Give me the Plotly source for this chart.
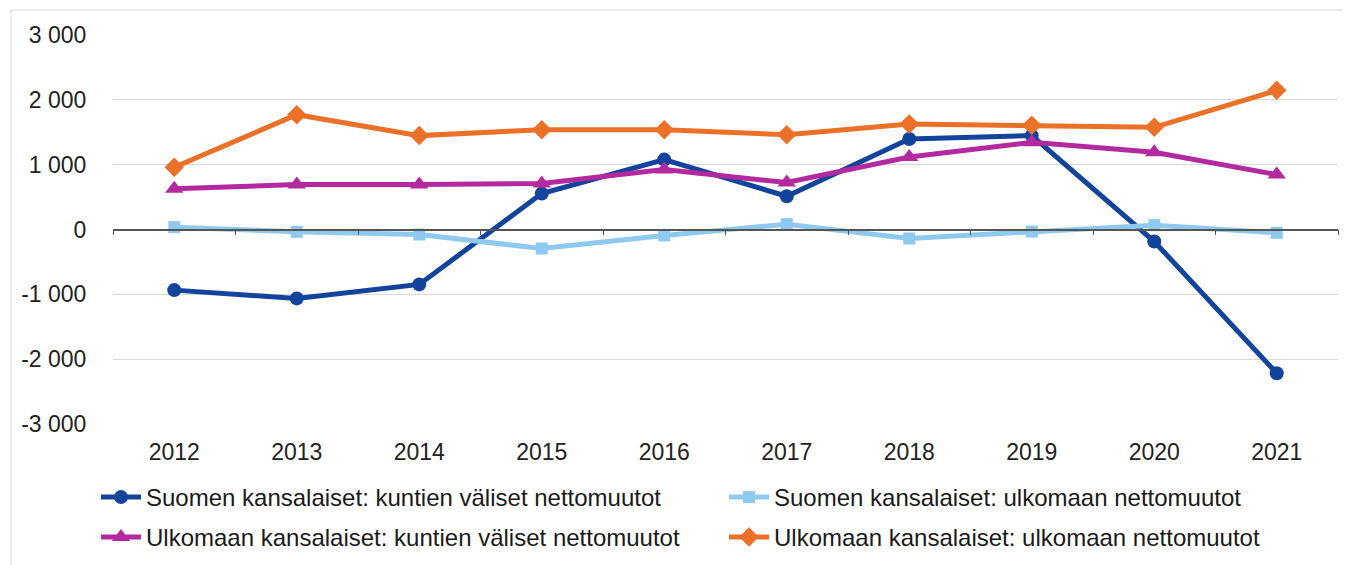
import plotly.graph_objects as go

# page has an 8px body margin, so the figure is a bit smaller than the window
W, H = 1343, 557

years = [2012, 2013, 2014, 2015, 2016, 2017, 2018, 2019, 2020, 2021]

suomi_kunnat = [-935, -1063, -847, 554, 1078, 513, 1396, 1448, -185, -2218]
suomi_ulkomaa = [36, -36, -77, -293, -92, 82, -139, -31, 67, -51]
ulkom_kunnat = [627, 693, 693, 708, 924, 724, 1119, 1345, 1191, 847]
ulkom_ulkomaa = [960, 1771, 1448, 1540, 1540, 1463, 1627, 1607, 1576, 2146]

names = [
    "Suomen kansalaiset: kuntien väliset nettomuutot",
    "Suomen kansalaiset: ulkomaan nettomuutot",
    "Ulkomaan kansalaiset: kuntien väliset nettomuutot",
    "Ulkomaan kansalaiset: ulkomaan nettomuutot",
]
colors = ["#12449c", "#8ecaf0", "#b32aa0", "#ec7128"]
symbols = ["circle", "square", "triangle-up", "diamond"]
msizes = [14, 12, 16, 15]
legend_ids = ["legend", "legend", "legend2", "legend2"]

yticks = [-3000, -2000, -1000, 0, 1000, 2000, 3000]
ytext = [f"{v:,}".replace(",", " ") for v in yticks]

FONT = "Liberation Sans, Arial, sans-serif"

fig = go.Figure()
for name, ys, col, sym, ms, lg in zip(names, [suomi_kunnat, suomi_ulkomaa, ulkom_kunnat, ulkom_ulkomaa],
                                      colors, symbols, msizes, legend_ids):
    fig.add_trace(go.Scatter(
        x=years, y=ys, name=name, mode="lines+markers", legend=lg,
        line=dict(color=col, width=5),
        marker=dict(symbol=sym, size=ms, color=col),
    ))

# axis line at zero with category boundary ticks
fig.add_trace(go.Scatter(x=[years[0]], y=[0], xaxis="x2", showlegend=False,
                         hoverinfo="skip", mode="markers", marker=dict(opacity=0)))

m_l, m_r, m_t, m_b = 105, 13, 27, 141
pw, ph = W - m_l - m_r, H - m_t - m_b


def px_x(x):
    return (x - m_l) / pw


def px_y(y):
    return (H - m_b - y) / ph


legend_style = dict(
    orientation="h", xref="paper", yref="paper",
    xanchor="left", yanchor="top",
    entrywidth=573, entrywidthmode="pixels",
    font=dict(size=24, family=FONT, color="#1a1a1a"),
    itemwidth=40, bgcolor="rgba(0,0,0,0)",
)

fig.update_layout(
    width=W, height=H,
    margin=dict(l=m_l, r=m_r, t=m_t, b=m_b, autoexpand=False),
    paper_bgcolor="white", plot_bgcolor="white",
    font=dict(family=FONT, color="#222222"),
    showlegend=True,
    legend=dict(legend_style, x=px_x(88), y=px_y(467)),
    legend2=dict(legend_style, x=px_x(88), y=px_y(507)),
    xaxis=dict(
        range=[years[0] - 0.5, years[-1] + 0.5],
        tickvals=years, ticktext=[str(y) for y in years],
        showgrid=False, zeroline=False, showline=False,
        ticks="outside", ticklen=7, tickcolor="rgba(0,0,0,0)",
        tickfont=dict(size=23, family=FONT, color="#222222"),
    ),
    xaxis2=dict(
        overlaying="x", anchor="free", position=0.5,
        range=[years[0] - 0.5, years[-1] + 0.5],
        tickvals=[y - 0.5 for y in years] + [years[-1] + 0.5],
        showticklabels=False, showgrid=False, zeroline=False,
        showline=True, linecolor="#555555", linewidth=1.5,
        ticks="outside", ticklen=5, tickcolor="#555555", tickwidth=1,
    ),
    yaxis=dict(
        range=[-3000, 3000], tickvals=yticks, ticktext=ytext,
        showgrid=True, gridcolor="#d9d9d9", gridwidth=1,
        zeroline=False, showline=False,
        ticks="outside", ticklen=21, tickcolor="rgba(0,0,0,0)",
        tickfont=dict(size=23, family=FONT, color="#222222"),
    ),
    shapes=[
        dict(type="line", xref="paper", yref="paper",
             x0=px_x(3), x1=px_x(W), y0=px_y(2), y1=px_y(2),
             line=dict(color="#d9d9d9", width=1)),
        dict(type="line", xref="paper", yref="paper",
             x0=px_x(3), x1=px_x(3), y0=px_y(H), y1=px_y(2),
             line=dict(color="#d9d9d9", width=1)),
    ],
)

fig.write_html("out.html")
